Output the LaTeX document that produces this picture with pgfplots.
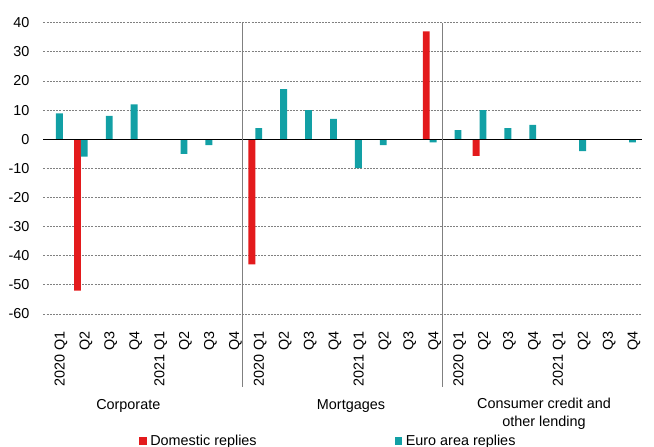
\documentclass[border=0pt]{standalone}
\usepackage{fontspec}
\setmainfont{Liberation Sans}
\usepackage{pgfplots}
\pgfplotsset{compat=1.18}
\definecolor{ecbred}{HTML}{E31A1C}
\definecolor{ecbteal}{HTML}{12A0A5}
\begin{document}
\fontsize{14.4pt}{17pt}\selectfont
\begin{tikzpicture}
\useasboundingbox (-43.5pt,-133pt) rectangle (610.5pt,314pt);
\begin{axis}[
  at={(0,0)}, anchor=south west,
  scale only axis, width=598pt, height=291.3pt,
  xmin=-0.5, xmax=23.5, ymin=-60, ymax=40,
  ytick={-60,-50,...,40},
  xtick={0,...,23},
  xticklabels={2020 Q1,Q2,Q3,Q4,2021 Q1,Q2,Q3,Q4,2020 Q1,Q2,Q3,Q4,2021 Q1,Q2,Q3,Q4,2020 Q1,Q2,Q3,Q4,2021 Q1,Q2,Q3,Q4},
  axis line style={draw=none},
  major tick length=0pt,
  ymajorgrids,
  grid style={color=gray, dash pattern=on 2pt off 1.2pt, line width=0.8pt},
  /pgf/number format/assume math mode=true,
  yticklabel style={xshift=-9pt},
  xticklabel style={xshift=5pt, yshift=-12pt, rotate=90, anchor=east},
  ybar, bar width=6.8pt,
  clip=false,
  legend columns=2,
  legend style={draw=none, fill=none, inner sep=0pt,
    at={(axis description cs:0.1597,-0.436)}, anchor=west,
    /tikz/every even column/.append style={column sep=136pt}},
]
\addplot[ybar, bar shift=-3.4pt, fill=ecbred, draw=none,
  legend image code/.code={\fill[ecbred] (0pt,-3.8pt) rectangle (7.6pt,3.8pt);}]
  coordinates {(1,-52) (8,-43) (15,37) (17,-5.7)};
\addlegendentry{\hspace{1.5pt}Domestic replies}
\addplot[ybar, bar shift=3.4pt, fill=ecbteal, draw=none,
  legend image code/.code={\fill[ecbteal] (0pt,-3.8pt) rectangle (7.6pt,3.8pt);}]
  coordinates {(0,8.9) (1,-6) (2,8) (3,12) (5,-5) (6,-2)
               (8,3.8) (9,17.2) (10,10) (11,7) (12,-9.9) (13,-2) (15,-1.1)
               (16,3.1) (17,10) (18,3.8) (19,4.9) (21,-4.1) (23,-1.1)};
\addlegendentry{\hspace{1.5pt}Euro area replies}
\draw[black, line width=1.3pt] (axis cs:-0.5,0) -- (axis cs:23.5,0);
\draw[color=gray, line width=1.3pt] (axis cs:7.5,40) -- ([yshift=-73pt]axis cs:7.5,-60);
\draw[color=gray, line width=1.3pt] (axis cs:15.5,40) -- ([yshift=-73pt]axis cs:15.5,-60);
\end{axis}
\node[anchor=base] at (84.8pt,-96pt) {Corporate};
\node[anchor=base] at (307.5pt,-96pt) {Mortgages};
\node[anchor=base] at (500.5pt,-95pt) {Consumer credit and};
\node[anchor=base] at (500.5pt,-112.7pt) {other lending};
\end{tikzpicture}
\end{document}
